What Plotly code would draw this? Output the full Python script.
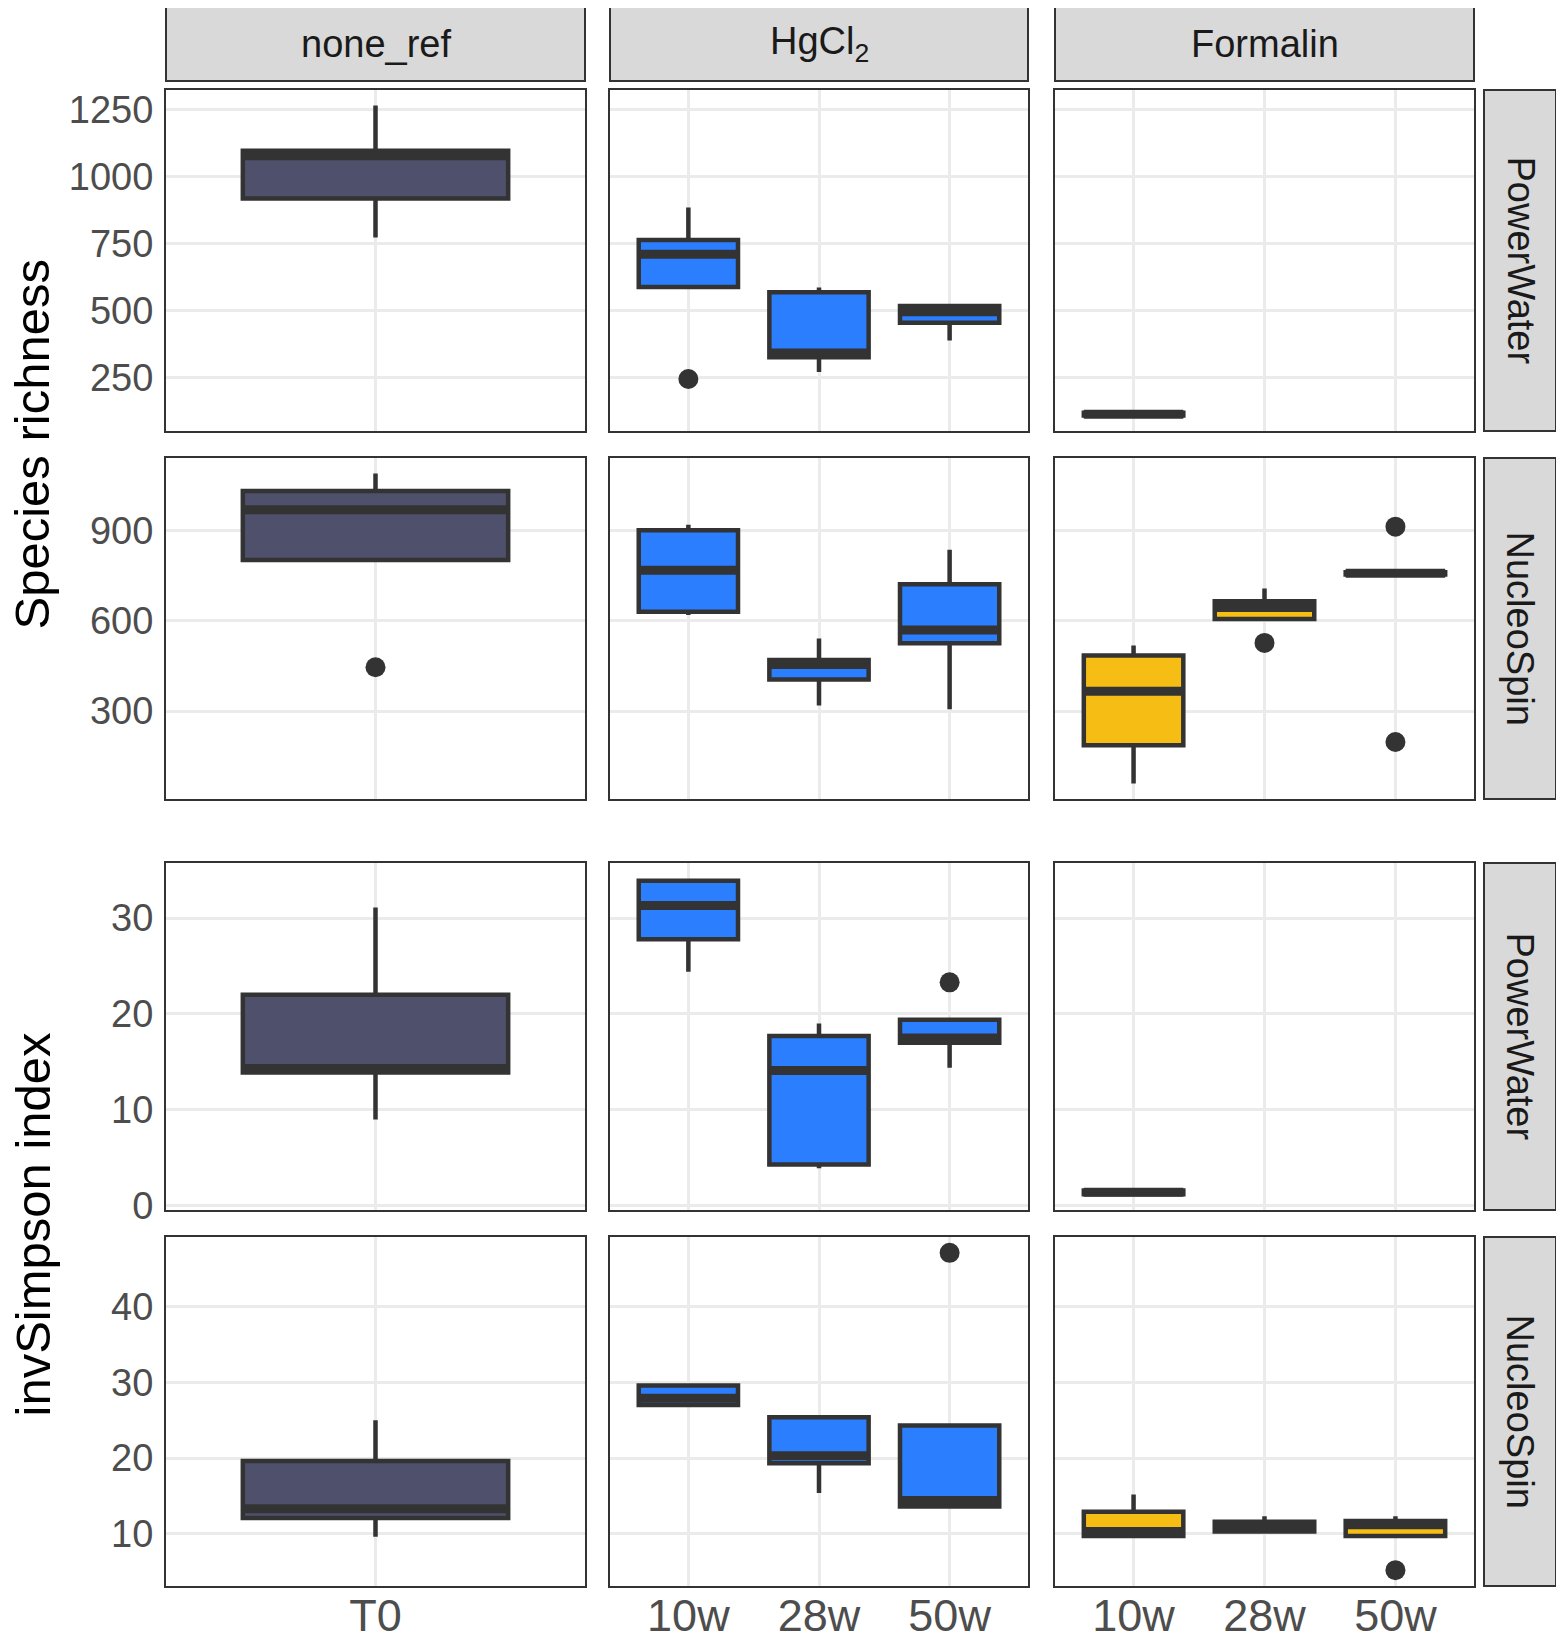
import plotly.graph_objects as go
from plotly.subplots import make_subplots

# the html page puts an 8px body margin around the figure
OFF = 8
W, H = 1564 - 2 * OFF, 1644 - 2 * OFF
FONT = "Liberation Sans, Arial, sans-serif"

PRESERVATIVES = ["none_ref", "HgCl<sub>2</sub>", "Formalin"]
KITS = ["PowerWater", "NucleoSpin", "PowerWater", "NucleoSpin"]
T0 = ["T0"]
WEEKS = ["10w", "28w", "50w"]
FILLS = ["#4F506B", "#2B7FFF", "#F6BE15"]

# box stats: (time, lower whisker, q1, median, q3, upper whisker)
rich_pw_none = [("T0", 774, 919, 1079, 1097, 1266)]
rich_pw_hgcl2 = [("10w", 589, 589, 711, 764, 886),
                 ("28w", 272, 327, 343, 570, 587),
                 ("50w", 390, 456, 497, 518, 518)]
rich_pw_formalin = [("10w", 110, 110, 115, 120, 120)]

rich_ns_none = [("T0", 803, 803, 970, 1033, 1091)]
rich_ns_hgcl2 = [("10w", 620, 631, 769, 902, 920),
                 ("28w", 319, 405, 455, 470, 542),
                 ("50w", 306, 526, 570, 722, 837)]
rich_ns_formalin = [("10w", 59, 186, 366, 485, 518),
                    ("28w", 607, 607, 645, 666, 708),
                    ("50w", 755, 755, 759, 762, 762)]

inv_pw_none = [("T0", 9.0, 13.9, 14.3, 22.0, 31.1)]
inv_pw_hgcl2 = [("10w", 24.4, 27.8, 31.3, 33.9, 34.1),
                ("28w", 3.9, 4.3, 14.1, 17.7, 19.0),
                ("50w", 14.4, 17.0, 17.5, 19.4, 19.4)]
inv_pw_formalin = [("10w", 1.2, 1.2, 1.4, 1.6, 1.6)]

inv_ns_none = [("T0", 9.6, 12.1, 13.3, 19.6, 25.0)]
inv_ns_hgcl2 = [("10w", 27.0, 27.0, 27.9, 29.6, 29.8),
                ("28w", 15.4, 19.3, 20.3, 25.4, 25.4),
                ("50w", 13.6, 13.6, 14.4, 24.3, 24.3)]
inv_ns_formalin = [("10w", 9.7, 9.7, 10.3, 12.9, 15.2),
                   ("28w", 10.2, 10.3, 11.0, 11.6, 12.3),
                   ("50w", 9.7, 9.7, 11.2, 11.7, 12.3)]

# outliers: (time, value)
rich_pw_hgcl2_out = [("10w", 246)]
rich_ns_none_out = [("T0", 446)]
rich_ns_formalin_out = [("28w", 527), ("50w", 914), ("50w", 197)]
inv_pw_hgcl2_out = [("50w", 23.3)]
inv_ns_hgcl2_out = [("50w", 47.1)]
inv_ns_formalin_out = [("50w", 5.2)]

panels = [
    [rich_pw_none, rich_pw_hgcl2, rich_pw_formalin],
    [rich_ns_none, rich_ns_hgcl2, rich_ns_formalin],
    [inv_pw_none, inv_pw_hgcl2, inv_pw_formalin],
    [inv_ns_none, inv_ns_hgcl2, inv_ns_formalin],
]
outliers = [
    [[], rich_pw_hgcl2_out, []],
    [rich_ns_none_out, [], rich_ns_formalin_out],
    [[], inv_pw_hgcl2_out, []],
    [[], inv_ns_hgcl2_out, inv_ns_formalin_out],
]
col_cats = [T0, WEEKS, WEEKS]
row_dtick = [250, 300, 10, 10]

# panel positions in screenshot pixels
COL_X = [(166, 585), (610, 1028), (1055, 1474)]
ROW_Y = [(90, 431), (458, 799), (863, 1210), (1237, 1586)]
TOP_STRIP = (7, 81)
RIGHT_STRIP = (1484, 1556)
BOX_W = 0.76


def fx(px):
    return (px - OFF) / W


def fy(py):
    return 1 - (py - OFF) / H


fig = make_subplots(rows=4, cols=3)

for r in range(4):
    vals = []
    for c in range(3):
        for row in panels[r][c]:
            vals += row[1:]
        vals += [o[1] for o in outliers[r][c]]
    lo, hi = min(vals), max(vals)
    pad = (hi - lo) * 0.05
    yrange = [lo - pad, hi + pad]

    for c in range(3):
        cats = col_cats[c]
        stats = panels[r][c]
        xs = [cats.index(s[0]) for s in stats]
        fig.add_trace(go.Box(
            x=xs,
            lowerfence=[s[1] for s in stats],
            q1=[s[2] for s in stats],
            median=[s[3] for s in stats],
            q3=[s[4] for s in stats],
            upperfence=[s[5] for s in stats],
            width=BOX_W, whiskerwidth=0, boxpoints=False,
            fillcolor=FILLS[c], line=dict(color="#333333", width=4.5),
            showlegend=False,
        ), row=r + 1, col=c + 1)

        # thick median bar as in ggplot
        mx, my = [], []
        for x, s in zip(xs, stats):
            mx += [x - BOX_W / 2, x + BOX_W / 2, None]
            my += [s[3], s[3], None]
        fig.add_trace(go.Scatter(
            x=mx, y=my, mode="lines",
            line=dict(color="#333333", width=9),
            showlegend=False, hoverinfo="skip",
        ), row=r + 1, col=c + 1)

        if outliers[r][c]:
            fig.add_trace(go.Scatter(
                x=[cats.index(o[0]) for o in outliers[r][c]],
                y=[o[1] for o in outliers[r][c]],
                mode="markers",
                marker=dict(color="#333333", size=20),
                showlegend=False,
            ), row=r + 1, col=c + 1)

        x0, x1 = COL_X[c]
        y0, y1 = ROW_Y[r]
        fig.update_xaxes(
            domain=[fx(x0), fx(x1)],
            range=[-0.6, len(cats) - 0.4],
            tickvals=list(range(len(cats))), ticktext=cats,
            showticklabels=(r == 3),
            row=r + 1, col=c + 1,
        )
        fig.update_yaxes(
            domain=[fy(y1), fy(y0)],
            range=yrange, tick0=0, dtick=row_dtick[r],
            showticklabels=(c == 0),
            row=r + 1, col=c + 1,
        )

fig.update_xaxes(
    showgrid=True, gridcolor="#EBEBEB", gridwidth=3, zeroline=False,
    showline=True, mirror=True, linecolor="#333333", linewidth=2,
    ticks="", ticklabelstandoff=-11, automargin=False,
    tickfont=dict(family=FONT, size=45, color="#4D4D4D"),
)
fig.update_yaxes(
    showgrid=True, gridcolor="#EBEBEB", gridwidth=3, zeroline=False,
    showline=True, mirror=True, linecolor="#333333", linewidth=2,
    ticks="", ticklabelstandoff=3, automargin=False,
    tickfont=dict(family=FONT, size=38, color="#4D4D4D"),
)

shapes = []
annotations = []
for c, name in enumerate(PRESERVATIVES):
    x0, x1 = COL_X[c]
    shapes.append(dict(type="rect", xref="paper", yref="paper",
                       x0=fx(x0), x1=fx(x1), y0=fy(TOP_STRIP[1]), y1=fy(TOP_STRIP[0]),
                       fillcolor="#D9D9D9", line=dict(color="#333333", width=2), layer="below"))
    annotations.append(dict(text=name, xref="paper", yref="paper",
                            x=fx((x0 + x1) / 2), y=fy(sum(TOP_STRIP) / 2),
                            xanchor="center", yanchor="middle",
                            showarrow=False, font=dict(family=FONT, size=38, color="#1A1A1A")))

for r, kit in enumerate(KITS):
    y0, y1 = ROW_Y[r]
    shapes.append(dict(type="rect", xref="paper", yref="paper",
                       x0=fx(RIGHT_STRIP[0]), x1=fx(RIGHT_STRIP[1]), y0=fy(y1), y1=fy(y0),
                       fillcolor="#D9D9D9", line=dict(color="#333333", width=2), layer="below"))
    annotations.append(dict(text=kit, xref="paper", yref="paper",
                            x=fx(sum(RIGHT_STRIP) / 2), y=fy((y0 + y1) / 2), textangle=90,
                            xanchor="center", yanchor="middle",
                            showarrow=False, font=dict(family=FONT, size=38, color="#1A1A1A")))

annotations.append(dict(text="Species richness", xref="paper", yref="paper",
                        x=fx(32), y=fy((ROW_Y[0][0] + ROW_Y[1][1]) / 2), textangle=-90,
                        xanchor="center", yanchor="middle",
                        showarrow=False, font=dict(family=FONT, size=49, color="#000000")))
annotations.append(dict(text="invSimpson index", xref="paper", yref="paper",
                        x=fx(32), y=fy((ROW_Y[2][0] + ROW_Y[3][1]) / 2), textangle=-90,
                        xanchor="center", yanchor="middle",
                        showarrow=False, font=dict(family=FONT, size=49, color="#000000")))

fig.update_layout(
    width=W, height=H,
    margin=dict(l=0, r=0, t=0, b=0),
    paper_bgcolor="white", plot_bgcolor="white",
    showlegend=False,
    shapes=shapes, annotations=annotations,
    font=dict(family=FONT),
)

fig.write_html("out.html")
